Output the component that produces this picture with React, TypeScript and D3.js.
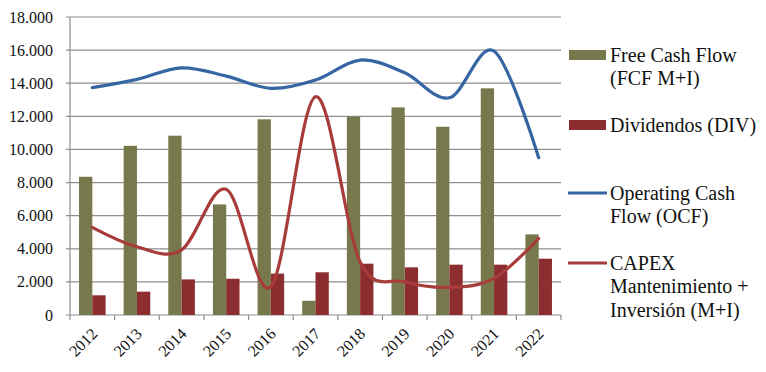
import React from 'react';
import * as d3 from 'd3';

const years = ['2012', '2013', '2014', '2015', '2016', '2017', '2018', '2019', '2020', '2021', '2022'];
const fcf = [8350, 10220, 10830, 6680, 11820, 860, 11980, 12540, 11370, 13690, 4870];
const div = [1190, 1410, 2150, 2190, 2500, 2580, 3100, 2880, 3040, 3040, 3400];
const ocf = [13730, 14230, 14930, 14430, 13690, 14190, 15400, 14630, 13120, 15940, 9500];
const capex = [5290, 4120, 3930, 7590, 1710, 13180, 3200, 2010, 1670, 2210, 4630];
const yTicks = [0, 2000, 4000, 6000, 8000, 10000, 12000, 14000, 16000, 18000];

const W = 766;
const H = 372;
const left = 70;
const right = 561;
const top = 17;
const bottom = 315;

const green = '#77794c';
const darkRed = '#8c2d30';
const blue = '#3566a3';
const red = '#a83c3a';
const grid = '#8e8e8e';
const txt = { fontFamily: "'Liberation Serif', 'DejaVu Serif', serif" };

const fmt = (v: number) => (v === 0 ? '0' : d3.format(',')(v).replace(/,/g, '.'));

export default function App() {
  const x = d3.scaleBand<string>().domain(years).range([left, right]).paddingInner(0).paddingOuter(0);
  const inner = d3.scaleBand<string>().domain(['fcf', 'div']).range([0, x.bandwidth()]).paddingInner(0).paddingOuter(0.68);
  const y = d3.scaleLinear().domain([0, 18000]).range([bottom, top]);
  const cx = (i: number) => (x(years[i]) as number) + x.bandwidth() / 2;

  const line = d3
    .line<number>()
    .x((_, i) => cx(i))
    .y((d) => y(d))
    .curve(d3.curveCardinal.tension(0));

  const legend = [
    { kind: 'bar', color: green, cy: 55, lines: ['Free Cash Flow', '(FCF M+I)'] },
    { kind: 'bar', color: darkRed, cy: 125, lines: ['Dividendos (DIV)'] },
    { kind: 'line', color: blue, cy: 193, lines: ['Operating Cash', 'Flow (OCF)'] },
    { kind: 'line', color: red, cy: 263, lines: ['CAPEX', 'Mantenimiento +', 'Inversión (M+I)'] },
  ];

  return (
    <svg width={W} height={H} style={{ position: 'absolute', left: 0, top: 0, background: '#fff' }}>
      {yTicks.map((t) => (
        <g key={t}>
          <line x1={left - 4} x2={right} y1={y(t)} y2={y(t)} stroke={grid} strokeWidth={1.2} />
          <text x={53} y={y(t)} dy="0.35em" textAnchor="end" fontSize={16} fill="#111" style={txt}>
            {fmt(t)}
          </text>
        </g>
      ))}
      <line x1={left} x2={left} y1={top} y2={bottom} stroke={grid} strokeWidth={1.2} />
      {years.map((yr) => (
        <line key={yr} x1={x(yr)!} x2={x(yr)!} y1={bottom} y2={bottom + 5} stroke={grid} strokeWidth={1.2} />
      ))}
      <line x1={right} x2={right} y1={bottom} y2={bottom + 5} stroke={grid} strokeWidth={1.2} />

      {years.map((yr, i) => (
        <g key={'b' + yr}>
          <rect
            x={(x(yr) as number) + (inner('fcf') as number)}
            y={y(fcf[i])}
            width={inner.bandwidth()}
            height={bottom - y(fcf[i])}
            fill={green}
          />
          <rect
            x={(x(yr) as number) + (inner('div') as number)}
            y={y(div[i])}
            width={inner.bandwidth()}
            height={bottom - y(div[i])}
            fill={darkRed}
          />
        </g>
      ))}

      <path d={line(ocf) || ''} fill="none" stroke={blue} strokeWidth={3.2} strokeLinecap="round" />
      <path d={line(capex) || ''} fill="none" stroke={red} strokeWidth={3.2} strokeLinecap="round" />

      {years.map((yr, i) => (
        <text
          key={'l' + yr}
          transform={`translate(${cx(i) + 2},${bottom + 16}) rotate(-45)`}
          textAnchor="end"
          dy="0.35em"
          fontSize={16}
          fill="#111"
          style={txt}
        >
          {yr}
        </text>
      ))}

      {legend.map((l) => (
        <g key={l.lines[0]}>
          {l.kind === 'bar' ? (
            <rect x={569} y={l.cy - 5} width={37} height={10} fill={l.color} />
          ) : (
            <line x1={568} x2={607} y1={l.cy} y2={l.cy} stroke={l.color} strokeWidth={3.2} />
          )}
          {l.lines.map((s, j) => (
            <text key={s} x={610} y={l.cy + 6.5 + j * 23.5} fontSize={20} fill="#111" style={txt}>
              {s}
            </text>
          ))}
        </g>
      ))}
    </svg>
  );
}
